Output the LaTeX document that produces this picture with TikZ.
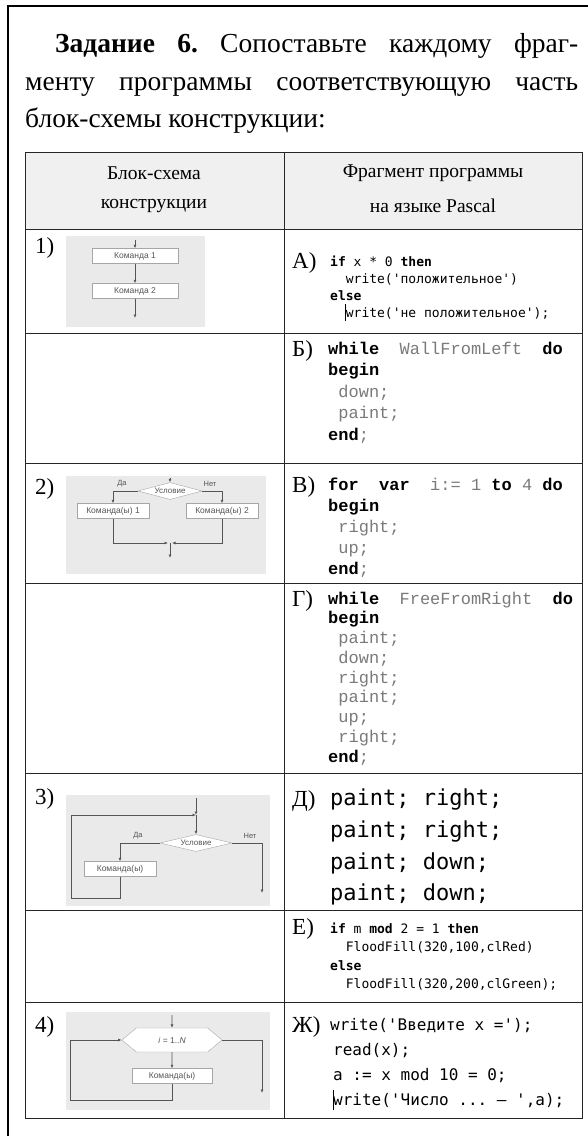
\documentclass[tikz,border=0pt]{standalone}
\usepackage{fontspec}
\setmainfont{Liberation Serif}
\newfontfamily\courf{Liberation Mono}[Ligatures=TeXOff]
\newfontfamily\consf{DejaVu Sans Mono}[Ligatures=TeXOff]
\newfontfamily\arif{Liberation Sans}
\usetikzlibrary{shapes.geometric,shapes.symbols,arrows.meta}
\definecolor{idgray}{HTML}{7A7A7A}
\definecolor{fcgray}{HTML}{555555}
\definecolor{bggray}{HTML}{EAEAEA}
\definecolor{hdrgray}{HTML}{F0F0F0}
\newcommand\codeln[4]{\node[#1] (#2) at #3 {#4};}
\frenchspacing
\tikzset{
  frameline/.style={line width=1.3pt, draw=black},
  tabline/.style={line width=1pt, draw=black!85},
  hdr/.style={inner sep=0pt, font=\fontsize{19.5}{19.5}\selectfont},
  title/.style={anchor=base west, inner sep=0pt, font=\fontsize{27.5}{27.5}\selectfont},
  rowlab/.style={anchor=base west, inner sep=0pt, font=\fontsize{23}{23}\selectfont},
  letlab/.style={anchor=base west, inner sep=0pt, font=\fontsize{23}{23}\selectfont},
  cA/.style={anchor=base west, inner sep=0pt, font=\consf\fontsize{13}{13}\selectfont},
  cC/.style={anchor=base west, inner sep=0pt, font=\courf\fontsize{17}{17}\selectfont},
  cD/.style={anchor=base west, inner sep=0pt, font=\consf\fontsize{22}{22}\selectfont},
  cJ/.style={anchor=base west, inner sep=0pt, font=\consf\fontsize{16}{16}\selectfont},
  fcbg/.style={fill=bggray, draw=none},
  fcbox/.style={draw=gray!70, fill=white, font=\arif\fontsize{8.5}{9}\selectfont, text=fcgray, inner sep=0pt, minimum height=15pt},
  fcdia/.style={shape=diamond, aspect=4, draw=gray!70, fill=white, font=\arif\fontsize{8}{8}\selectfont, text=fcgray, inner sep=0.3pt, minimum width=64pt, minimum height=17pt},
  fchex/.style={shape=signal, signal to=west and east, signal pointer angle=80, draw=gray!70, fill=white, font=\arif\fontsize{8.5}{9}\selectfont, text=fcgray, inner sep=1pt, minimum width=100pt, minimum height=24pt},
  fclab/.style={inner sep=0pt, font=\arif\fontsize{7.5}{7.5}\selectfont, text=fcgray},
  fcline/.style={draw=fcgray, line width=0.7pt},
  fcarr/.style={fcline, -{Latex[length=3.5pt,width=3pt]}},
  cursor/.style={draw=black, line width=0.8pt},
}
\begin{document}
\begin{tikzpicture}[x=1pt,y=-1pt]
\useasboundingbox (0,0) rectangle (588,1136);
\draw[frameline] (8,1140) -- (8,6) -- (592,6);
% title
\node[title] (t1) at (55,52) {\makebox[523pt][s]{\textbf{Задание 6.} Сопоставьте каждому фраг-}};
\node[title] (t2) at (25,90) {\makebox[553pt][s]{менту программы соответствующую часть}};
\node[title] (t3) at (25,127) {блок-схемы конструкции:};
% table
\fill[hdrgray] (25,152) rectangle (582,229);
\draw[tabline] (25,152) rectangle (582,1118);
\draw[tabline] (284,152) -- (284,1118);
\foreach \yy in {229,333,463,583,773,910,1002} \draw[tabline] (25,\yy) -- (582,\yy);
\node[hdr] (h1) at (154,173) {Блок-схема};
\node[hdr] (h2) at (154,206) {конструкции};
\node[hdr] (h3) at (433,173) {Фрагмент программы};
\node[hdr] (h4) at (433,206) {на языке Pascal};
% row labels
\node[rowlab] (n1) at (35,253) {1)};
\node[rowlab] (n2) at (35,494) {2)};
\node[rowlab] (n3) at (35,804) {3)};
\node[rowlab] (n4) at (35,1032) {4)};
\node[letlab] (lA) at (292,268) {А)};
\node[letlab] (lB) at (292,356) {Б)};
\node[letlab] (lV) at (292,492) {В)};
\node[letlab] (lG) at (292,606) {Г)};
\node[letlab] (lD) at (292,806) {Д)};
\node[letlab] (lE) at (292,934) {Е)};
\node[letlab] (lZ) at (292,1032) {Ж)};
% code A
\codeln{cA}{a1}{(330,266)}{\textbf{if} x * 0 \textbf{then}}
\codeln{cA}{a2}{(330,283)}{~~write('положительное')}
\codeln{cA}{a3}{(330,300)}{\textbf{else}}
\codeln{cA}{a4}{(330,317)}{~~write('не положительное');}
\draw[cursor] ([shift={(15.5,4)}]a4.base west) -- ++(0,-17);
% code B
\codeln{cC}{b1}{(328,354)}{\textbf{while}~~\textcolor{idgray}{WallFromLeft}~~\textbf{do}}
\codeln{cC}{b2}{(328,375)}{\textbf{begin}}
\codeln{cC}{b3}{(328,397)}{\textcolor{idgray}{~down;}}
\codeln{cC}{b4}{(328,418)}{\textcolor{idgray}{~paint;}}
\codeln{cC}{b5}{(328,440)}{\textbf{end}\textcolor{idgray}{;}}
% code V
\codeln{cC}{v1}{(328,490)}{\textbf{for}~~\textbf{var}~~\textcolor{idgray}{i:=~1}~\textbf{to}~\textcolor{idgray}{4}~\textbf{do}}
\codeln{cC}{v2}{(328,511)}{\textbf{begin}}
\codeln{cC}{v3}{(328,532)}{\textcolor{idgray}{~right;}}
\codeln{cC}{v4}{(328,553)}{\textcolor{idgray}{~up;}}
\codeln{cC}{v5}{(328,574)}{\textbf{end}\textcolor{idgray}{;}}
% code G
\codeln{cC}{g1}{(328,604)}{\textbf{while}~~\textcolor{idgray}{FreeFromRight}~~\textbf{do}}
\codeln{cC}{g2}{(328,623.75)}{\textbf{begin}}
\codeln{cC}{g3}{(328,643.5)}{\textcolor{idgray}{~paint;}}
\codeln{cC}{g4}{(328,663.25)}{\textcolor{idgray}{~down;}}
\codeln{cC}{g5}{(328,683)}{\textcolor{idgray}{~right;}}
\codeln{cC}{g6}{(328,702.75)}{\textcolor{idgray}{~paint;}}
\codeln{cC}{g7}{(328,722.5)}{\textcolor{idgray}{~up;}}
\codeln{cC}{g8}{(328,742.25)}{\textcolor{idgray}{~right;}}
\codeln{cC}{g9}{(328,762)}{\textbf{end}\textcolor{idgray}{;}}
% code D
\codeln{cD}{d1}{(330,805)}{paint; right;}
\codeln{cD}{d2}{(330,837)}{paint; right;}
\codeln{cD}{d3}{(330,869)}{paint; down;}
\codeln{cD}{d4}{(330,900)}{paint; down;}
% code E
\codeln{cA}{e1}{(330,933)}{\textbf{if} m \textbf{mod} 2 = 1 \textbf{then}}
\codeln{cA}{e2}{(330,951)}{~~FloodFill(320,100,clRed)}
\codeln{cA}{e3}{(330,970)}{\textbf{else}}
\codeln{cA}{e4}{(330,988)}{~~FloodFill(320,200,clGreen);}
% code Zh
\codeln{cJ}{z1}{(330,1030)}{write('Введите x =');}
\codeln{cJ}{z2}{(333,1055)}{read(x);}
\codeln{cJ}{z3}{(333,1080)}{a := x mod 10 = 0;}
\codeln{cJ}{z4}{(333,1105)}{write('Число ... – ',a);}
\draw[cursor] ([shift={(0,5)}]z4.base west) -- ++(0,-20);
% flowchart 1
\fill[fcbg] (66,236) rectangle (205,327);
\coordinate (f1s) at (135,240);
\node[fcbox, minimum width=86pt] (f1a) at (135,256) {Команда 1};
\node[fcbox, minimum width=86pt] (f1b) at (135,291) {Команда 2};
\coordinate (f1e) at (135,318);
\draw[fcarr] (f1s) -- (f1a);
\draw[fcarr] (f1a) -- (f1b);
\draw[fcarr] (f1b) -- (f1e);
% flowchart 2
\fill[fcbg] (66,476) rectangle (266,574);
\coordinate (f2s) at (170,478);
\node[fcdia] (f2d) at (170,491) {Условие};
\node[fclab] (f2y) at (122,484) {Да};
\node[fclab] (f2n) at (210,484) {Нет};
\node[fcbox, minimum width=72pt] (f2a) at (113,511) {Команда(ы) 1};
\node[fcbox, minimum width=72pt] (f2b) at (222,511) {Команда(ы) 2};
\coordinate (f2j) at (170,543);
\coordinate (f2e) at (170,558);
\draw[fcarr] (f2s) -- (f2d);
\draw[fcarr] (f2d.west) -| (f2a.north);
\draw[fcarr] (f2d.east) -| (f2b.north);
\draw[fcarr, shorten >=2pt] (f2a.south) |- (f2j);
\draw[fcarr, shorten >=2pt] (f2b.south) |- (f2j);
\draw[fcarr] (f2j) -- (f2e);
% flowchart 3
\fill[fcbg] (66,795) rectangle (270,906);
\coordinate (f3s) at (196,798);
\coordinate (f3j) at (196,815);
\node[fcdia, minimum width=72pt] (f3d) at (196,843) {Условие};
\node[fclab] (f3y) at (138,836) {Да};
\node[fclab] (f3n) at (250,836) {Нет};
\node[fcbox, minimum width=72pt] (f3a) at (120,869) {Команда(ы)};
\coordinate (f3l) at (71,898);
\coordinate (f3e) at (262,893);
\draw[fcarr] (f3s) -- (f3j);
\draw[fcarr] (f3j) -- (f3d);
\draw[fcarr] (f3d.west) -| (f3a.north);
\draw[fcarr] (f3a.south) |- (f3l) |- (f3j);
\draw[fcarr] (f3d.east) -| (f3e);
% flowchart 4
\fill[fcbg] (66,1012) rectangle (270,1110);
\coordinate (f4s) at (172,1015);
\node[fchex] (f4h) at (172,1040) {\textit{i} = 1..\textit{N}};
\node[fcbox, minimum width=80pt] (f4a) at (172,1076) {Команда(ы)};
\coordinate (f4l) at (70,1100);
\coordinate (f4e) at (262,1093);
\draw[fcarr] (f4s) -- (f4h);
\draw[fcarr] (f4h) -- (f4a);
\draw[fcarr] (f4a.south) |- (f4l) |- (f4h.west);
\draw[fcarr] (f4h.east) -| (f4e);
\end{tikzpicture}
\end{document}
